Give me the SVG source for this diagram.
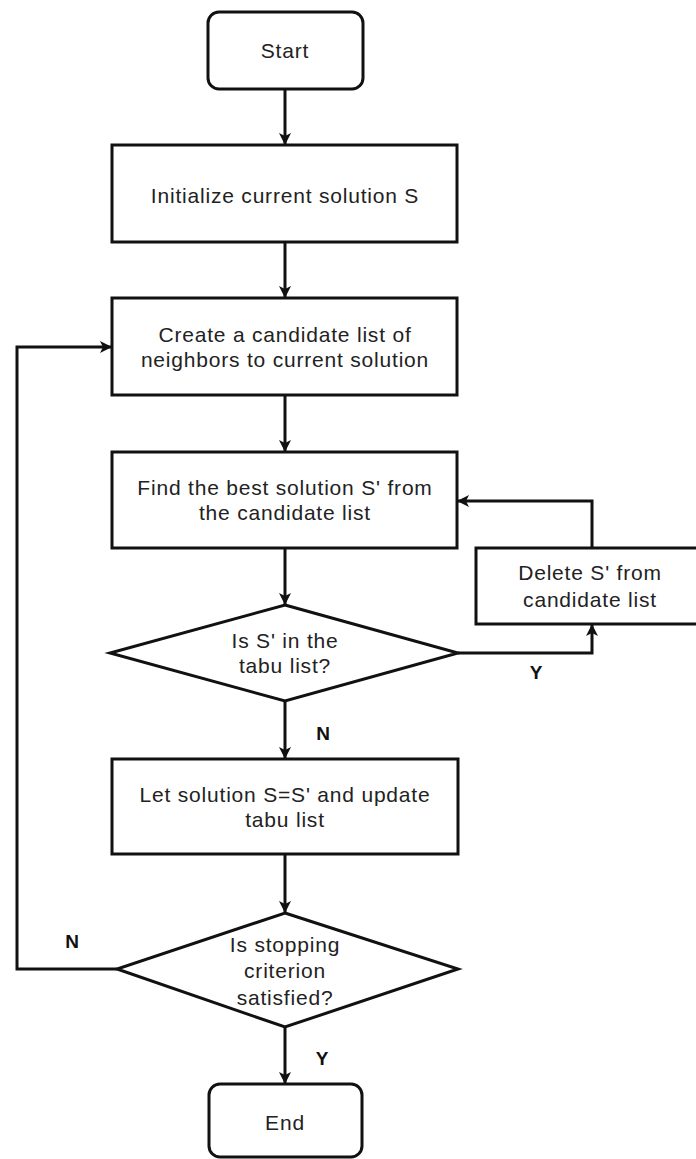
<svg xmlns="http://www.w3.org/2000/svg" width="696" height="1159" viewBox="0 0 696 1159">
  <style>
    .shape { fill: #ffffff; stroke: #111111; stroke-width: 3; }
    .edge { fill: none; stroke: #111111; stroke-width: 3; }
    .label { font-family: "Liberation Sans", Arial, sans-serif; font-size: 21px; letter-spacing: 0.8px; fill: #222222; text-anchor: middle; }
    .tag { font-family: "Liberation Sans", Arial, sans-serif; font-size: 19px; font-weight: bold; fill: #111111; text-anchor: middle; }
  </style>
  <defs>
    <marker id="arrow" viewBox="0 0 12 12" refX="11" refY="6" markerWidth="12" markerHeight="12" markerUnits="userSpaceOnUse" orient="auto">
      <path d="M0,0 L12,6 L0,12 L3,6 Z" fill="#111111"/>
    </marker>
  </defs>
  <rect width="696" height="1159" fill="#ffffff"/>

  <g id="connectors">
    <line class="edge" x1="285" y1="89" x2="285" y2="144" marker-end="url(#arrow)"/>
    <line class="edge" x1="285" y1="242" x2="285" y2="297" marker-end="url(#arrow)"/>
    <line class="edge" x1="285" y1="395" x2="285" y2="451" marker-end="url(#arrow)"/>
    <line class="edge" x1="285" y1="548" x2="285" y2="604" marker-end="url(#arrow)"/>
    <line class="edge" x1="285" y1="701" x2="285" y2="758" marker-end="url(#arrow)"/>
    <line class="edge" x1="285" y1="854" x2="285" y2="912" marker-end="url(#arrow)"/>
    <line class="edge" x1="285" y1="1027" x2="285" y2="1083" marker-end="url(#arrow)"/>
    <polyline class="edge" points="458,653 592,653 592,625" marker-end="url(#arrow)"/>
    <polyline class="edge" points="592,548 592,501 458,501" marker-end="url(#arrow)"/>
    <polyline class="edge" points="117,969 17,969 17,347 111,347" marker-end="url(#arrow)"/>
    <text class="tag" x="536" y="679">Y</text>
    <text class="tag" x="323" y="740">N</text>
    <text class="tag" x="72" y="948">N</text>
    <text class="tag" x="322" y="1065">Y</text>
  </g>

  <g id="start">
    <rect class="shape" x="208" y="12" width="155" height="77" rx="11"/>
    <text class="label" x="285" y="58">Start</text>
  </g>

  <g id="init">
    <rect class="shape" x="112" y="145" width="345" height="97"/>
    <text class="label" x="285" y="203">Initialize current solution S</text>
  </g>

  <g id="candidates">
    <rect class="shape" x="112" y="298" width="345" height="97"/>
    <text class="label" x="285" y="342">Create a candidate list of</text>
    <text class="label" x="285" y="367">neighbors to current solution</text>
  </g>

  <g id="best">
    <rect class="shape" x="112" y="452" width="345" height="96"/>
    <text class="label" x="285" y="495">Find the best solution S' from</text>
    <text class="label" x="285" y="520">the candidate list</text>
  </g>

  <g id="delete">
    <rect class="shape" x="476" y="548" width="228" height="76"/>
    <text class="label" x="590" y="580">Delete S' from</text>
    <text class="label" x="590" y="607">candidate list</text>
  </g>

  <g id="tabu-check">
    <polygon class="shape" points="285,605 458,653 285,701 110,653"/>
    <text class="label" x="285" y="648">Is S' in the</text>
    <text class="label" x="285" y="673">tabu list?</text>
  </g>

  <g id="update">
    <rect class="shape" x="112" y="759" width="346" height="95"/>
    <text class="label" x="285" y="802">Let solution S=S' and update</text>
    <text class="label" x="285" y="827">tabu list</text>
  </g>

  <g id="stop-check">
    <polygon class="shape" points="285,913 458,969 285,1027 117,969"/>
    <text class="label" x="285" y="952">Is stopping</text>
    <text class="label" x="285" y="978">criterion</text>
    <text class="label" x="285" y="1005">satisfied?</text>
  </g>

  <g id="end">
    <rect class="shape" x="209" y="1084" width="153" height="73" rx="11"/>
    <text class="label" x="285" y="1130">End</text>
  </g>
</svg>
